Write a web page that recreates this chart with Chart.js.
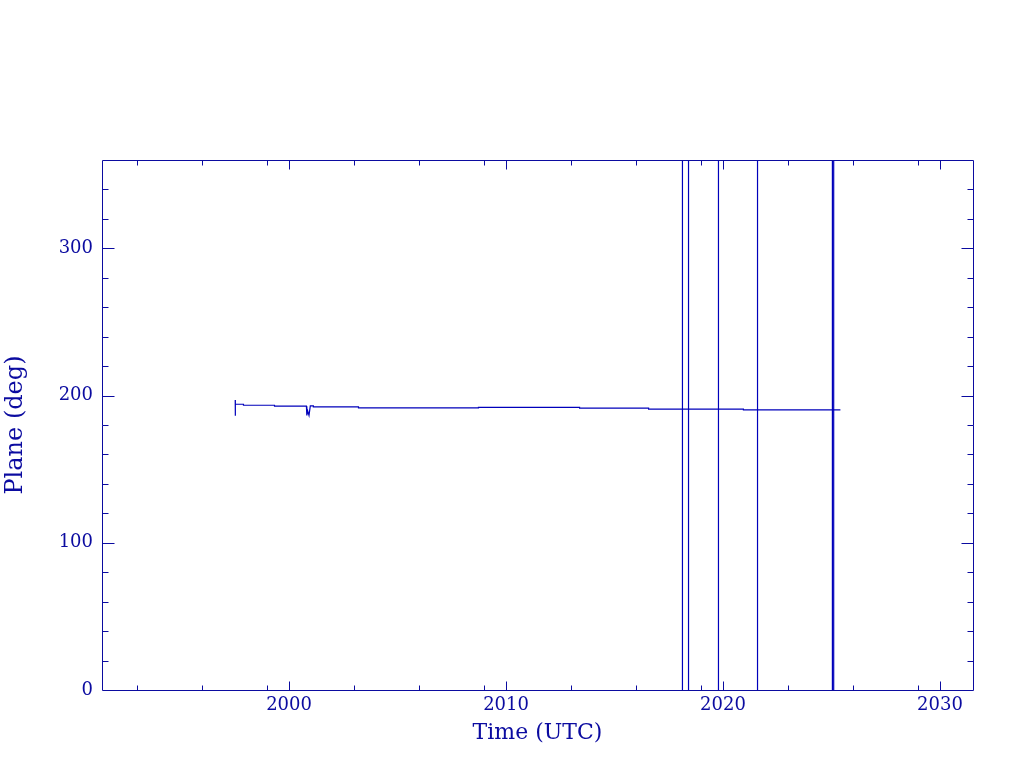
<!DOCTYPE html>
<html>
<head>
<meta charset="utf-8">
<style>
  html, body { margin: 0; padding: 0; background: #ffffff; }
  canvas { display: block; }
</style>
<script src="https://cdn.jsdelivr.net/npm/chart.js@4.4.1/dist/chart.umd.min.js"></script>
</head>
<body>
<canvas id="c" width="1024" height="768"></canvas>
<script>
// ---- data ----
const times = [
  1997.52, 1997.52, 1997.53, 1997.90, 1997.90, 1999.33, 1999.33, 2000.80,
  2000.82, 2000.86, 2000.92, 2000.98, 2001.12, 2001.12, 2003.20, 2003.20,
  2008.73, 2008.73, 2013.39, 2013.39, 2016.57, 2016.57,
  2018.13, 2018.13, 2018.13, 2018.13,
  2018.41, 2018.41, 2018.41, 2018.41,
  2019.79, 2019.79, 2019.79, 2019.79,
  2020.94, 2020.94,
  2021.59, 2021.59, 2021.59, 2021.59,
  2025.04, 2025.04, 2025.04, 2025.04,
  2025.10, 2025.10, 2025.10, 2025.10,
  2025.41
];
const planes = [
  197.0, 186.3, 194.1, 194.1, 193.4, 193.4, 192.8, 192.8,
  186.5, 189.5, 186.5, 193.0, 193.0, 192.3, 192.3, 191.7,
  191.7, 192.0, 192.0, 191.4, 191.4, 190.8,
  190.8, 360, 0, 190.8,
  190.8, 360, 0, 190.8,
  190.8, 360, 0, 190.8,
  190.8, 190.3,
  190.3, 360, 0, 190.3,
  190.3, 360, 0, 190.3,
  190.3, 360, 0, 190.3,
  190.3
];
const xMajorTicks = [2000, 2010, 2020, 2030];
const xMinorTicks = [1993, 1996, 1999, 2003, 2006, 2009, 2013, 2016, 2019, 2023, 2026, 2029];
const yMajorTicks = [0, 100, 200, 300];
const yMinorTicks = [20, 40, 60, 80, 120, 140, 160, 180, 220, 240, 260, 280, 320, 340];
const xRange = [1991.38, 2031.52];
const yRange = [0, 360];

const AXIS_COLOR = '#0b0ba0';
const LINE_COLOR = '#0000bb';
const FONT = '"DejaVu Serif", "Liberation Serif", serif';

const points = times.map((t, i) => ({ x: t, y: planes[i] }));

const frameTicks = {
  id: 'frameTicks',
  afterDraw(chart) {
    const { ctx, chartArea: a, scales } = chart;
    const xs = scales.x, ys = scales.y;
    ctx.save();
    ctx.strokeStyle = AXIS_COLOR;
    ctx.lineWidth = 1;
    const L = Math.round(a.left) + 0.5, R = Math.round(a.right) + 0.5;
    const T = Math.round(a.top) + 0.5, B = Math.round(a.bottom) + 0.5;
    ctx.beginPath();
    ctx.rect(L, T, R - L, B - T);
    ctx.stroke();
    ctx.beginPath();
    const xt = (vals, len) => vals.forEach(v => {
      const px = Math.round(xs.getPixelForValue(v)) + 0.5;
      if (px <= L + 1 || px >= R - 1) return;
      ctx.moveTo(px, B); ctx.lineTo(px, B - len);
      ctx.moveTo(px, T); ctx.lineTo(px, T + len);
    });
    const yt = (vals, len) => vals.forEach(v => {
      const py = Math.round(ys.getPixelForValue(v)) + 0.5;
      if (py <= T + 1 || py >= B - 1) return;
      ctx.moveTo(L, py); ctx.lineTo(L + len, py);
      ctx.moveTo(R, py); ctx.lineTo(R - len, py);
    });
    xt(xMajorTicks, 9);
    xt(xMinorTicks, 5);
    yt(yMajorTicks, 12);
    yt(yMinorTicks, 6);
    ctx.stroke();
    ctx.restore();
  }
};

new Chart(document.getElementById('c'), {
  type: 'line',
  data: {
    datasets: [{
      data: points,
      borderColor: LINE_COLOR,
      borderWidth: 1.2,
      pointRadius: 0,
      fill: false,
      tension: 0
    }]
  },
  options: {
    responsive: false,
    animation: false,
    devicePixelRatio: 1,
    layout: { padding: { top: 160, right: 51, left: 0, bottom: 0 } },
    plugins: { legend: { display: false }, tooltip: { enabled: false } },
    scales: {
      x: {
        type: 'linear',
        min: xRange[0], max: xRange[1],
        afterBuildTicks: s => { s.ticks = xMajorTicks.map(v => ({ value: v })); },
        afterFit: s => { s.height = 78; },
        grid: { display: false, drawTicks: false },
        border: { display: false },
        ticks: {
          color: AXIS_COLOR, padding: 5, maxRotation: 0, autoSkip: false,
          font: { family: FONT, size: 18 },
          callback: v => String(v)
        },
        title: {
          display: true, text: 'Time (UTC)', color: AXIS_COLOR,
          font: { family: FONT, size: 22 },
          padding: { top: 0, bottom: 22 }
        }
      },
      y: {
        type: 'linear',
        min: yRange[0], max: yRange[1],
        afterBuildTicks: s => { s.ticks = yMajorTicks.map(v => ({ value: v })); },
        afterFit: s => { s.width = 102; },
        grid: { display: false, drawTicks: false },
        border: { display: false },
        ticks: {
          color: AXIS_COLOR, padding: 9, autoSkip: false,
          font: { family: FONT, size: 18 },
          callback: v => String(v)
        },
        title: {
          display: true, text: 'Plane (deg)', color: AXIS_COLOR,
          font: { family: FONT, size: 24 },
          padding: { top: 1, bottom: 0 }
        }
      }
    }
  },
  plugins: [frameTicks]
});
</script>
</body>
</html>
